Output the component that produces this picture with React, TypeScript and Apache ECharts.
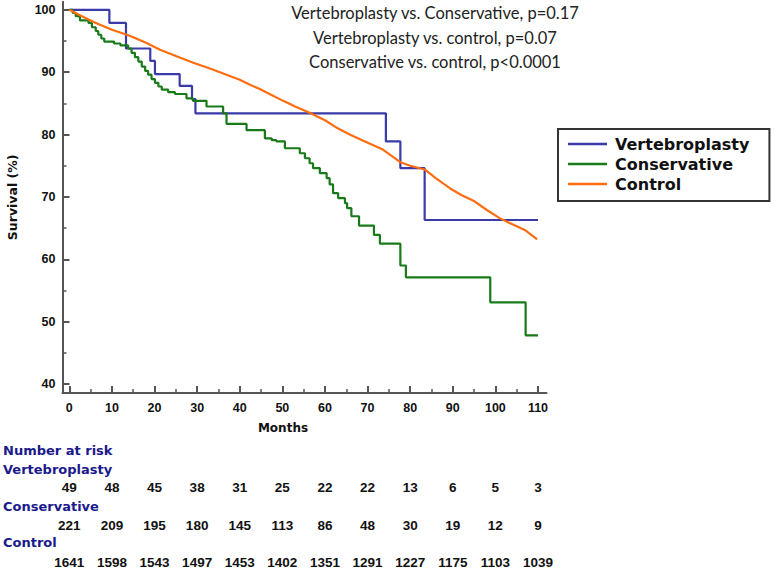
import React, { useEffect, useRef } from "react";
import * as echarts from "echarts";

const months = [0, 10, 20, 30, 40, 50, 60, 70, 80, 90, 100, 110];
const minorMonths = [5, 15, 25, 35, 45, 55, 65, 75, 85, 95, 105];
const survivalTicks = [40, 50, 60, 70, 80, 90, 100];
const survivalMinorTicks = [45, 55, 65, 75, 85, 95];

const riskVertebroplasty = [49, 48, 45, 38, 31, 25, 22, 22, 13, 6, 5, 3];
const riskConservative = [221, 209, 195, 180, 145, 113, 86, 48, 30, 19, 12, 9];
const riskControl = [1641, 1598, 1543, 1497, 1453, 1402, 1351, 1291, 1227, 1175, 1103, 1039];

const seriesNames = ["Vertebroplasty", "Conservative", "Control"];
const titleLines = [
  "Vertebroplasty vs. Conservative, p=0.17",
  "Vertebroplasty vs. control, p=0.07",
  "Conservative vs. control, p<0.0001",
];
const riskLabels = ["Number at risk", "Vertebroplasty", "Conservative", "Control"];

// Kaplan-Meier steps: [month at drop, survival % after drop]
const vertebroplastyData = [
  [0, 100], [9.4, 97.9], [13.3, 93.8], [19.0, 91.8], [20.1, 89.7], [25.9, 87.8],
  [28.8, 85.7], [29.6, 83.4], [74.3, 78.9], [77.7, 74.6], [83.4, 66.3], [110, 66.3],
];

const conservativeData = [
  [0, 100], [0.8, 99.5], [1.5, 99.0], [2.5, 98.3], [4.5, 97.9], [5.3, 97.2], [6.2, 96.6],
  [6.8, 96.0], [7.5, 95.4], [8.2, 94.9], [10.5, 94.6], [12.0, 94.3], [13.8, 93.8],
  [14.6, 93.1], [15.4, 92.4], [16.2, 91.7], [17.0, 90.9], [17.8, 90.2], [18.5, 89.6],
  [19.3, 88.9], [20.1, 88.3], [20.9, 87.7], [21.7, 87.2], [23.2, 86.8], [24.8, 86.5],
  [27.5, 85.8], [29.0, 85.4], [32.2, 84.5], [36.1, 83.4], [36.9, 81.7], [41.6, 80.7],
  [45.9, 79.4], [47.5, 79.1], [48.6, 78.9], [50.6, 77.8], [54.1, 77.0], [55.3, 76.2],
  [56.4, 75.4], [57.2, 74.6], [58.8, 73.8], [60.4, 73.0], [61.1, 72.0], [61.9, 70.6],
  [63.1, 69.8], [64.7, 69.0], [65.2, 68.2], [66.2, 66.9], [68.0, 65.4], [71.5, 63.9],
  [72.9, 62.5], [77.7, 59.0], [79.0, 57.1], [98.8, 53.1], [107.1, 47.8], [110, 47.8],
];

const controlData = [
  [0, 100], [2, 99.3], [5.6, 98.1], [7.2, 97.6], [10, 96.8], [13.5, 96.0], [15, 95.6],
  [18, 94.7], [21.3, 93.6], [25, 92.6], [29.1, 91.5], [33, 90.6], [36.9, 89.6], [40, 88.8],
  [42.4, 88.0], [44.7, 87.3], [47, 86.5], [50.2, 85.4], [53, 84.5], [56.4, 83.5], [60, 82.3],
  [63, 81.0], [65.8, 80.0], [69, 79.0], [73.6, 77.6], [77.6, 75.6], [80, 75.0], [83.4, 74.4],
  [86, 73.0], [89.3, 71.4], [92, 70.3], [95.1, 69.3], [98, 67.9], [101, 66.6], [104, 65.6],
  [106.9, 64.7], [109.8, 63.2],
];

const colors = ["#3a3aa8", "#187a18", "#ff6d10"];

const X_MIN = -1.6;
const X_MAX = 112;
const Y_MIN = 38.56;
const Y_MAX = 101.3;

const numFont = "'Liberation Sans', Arial, sans-serif";
const wideFont = "'DejaVu Sans', sans-serif";

function riskAxis(values: number[], offset: number) {
  return {
    type: "value",
    gridIndex: 0,
    position: "bottom",
    offset,
    min: X_MIN,
    max: X_MAX,
    axisLine: { show: false, onZero: false },
    axisTick: { show: false },
    splitLine: { show: false },
    axisLabel: {
      show: true,
      customValues: months,
      margin: 0,
      formatter: (v: number) => {
        const i = months.indexOf(Math.round(v));
        return i >= 0 ? String(values[i]) : "";
      },
      fontFamily: numFont,
      fontWeight: "bold",
      fontSize: 13.5,
      color: "#111",
    },
  };
}

export default function App() {
  const ref = useRef<HTMLDivElement>(null);

  useEffect(() => {
    if (!ref.current) return;
    const chart = echarts.init(ref.current, null, { renderer: "svg" });

    const axisLineStyle = { color: "#555", width: 2 };

    const graphics: any[] = [];
    titleLines.forEach((t, i) => {
      graphics.push({
        type: "text",
        x: 435,
        y: 13 + i * 24.5,
        style: {
          text: t,
          fill: "#222",
          font: "16.5px Lato, sans-serif",
          textAlign: "center",
          textVerticalAlign: "middle",
        },
      });
    });
    graphics.push({
      type: "text",
      x: 283,
      y: 428,
      style: {
        text: "Months",
        fill: "#111",
        font: `bold 12px ${wideFont}`,
        textAlign: "center",
        textVerticalAlign: "middle",
      },
    });
    const labelYs = [450, 469.3, 506, 542.7];
    riskLabels.forEach((t, i) => {
      graphics.push({
        type: "text",
        x: 3,
        y: labelYs[i],
        style: {
          text: t,
          fill: "#1a1a8c",
          font: `bold 13px ${wideFont}`,
          textAlign: "left",
          textVerticalAlign: "middle",
        },
      });
    });

    chart.setOption({
      animation: false,
      backgroundColor: "#fff",
      grid: {
        left: 62.5,
        top: 1.7,
        width: 484,
        height: 391.3,
        outerBoundsMode: "none",
      },
      legend: {
        orient: "vertical",
        left: 558,
        top: 129,
        padding: [5, 20, 7, 10],
        itemWidth: 39,
        itemHeight: 2.5,
        itemGap: 0,
        icon: "rect",
        borderColor: "#333",
        borderWidth: 2,
        backgroundColor: "#fff",
        data: seriesNames,
        textStyle: {
          fontFamily: wideFont,
          fontWeight: "bold",
          fontSize: 16,
          lineHeight: 20,
          color: "#111",
          padding: [0, 0, 0, 3],
        },
      },
      xAxis: [
        {
          type: "value",
          gridIndex: 0,
          position: "bottom",
          min: X_MIN,
          max: X_MAX,
          axisLine: { show: true, onZero: false, lineStyle: axisLineStyle },
          axisTick: {
            show: true,
            inside: true,
            length: 7,
            customValues: months,
            lineStyle: { color: "#555", width: 2 },
          },
          axisLabel: {
            show: true,
            customValues: months,
            margin: 8.5,
            fontFamily: numFont,
            fontWeight: "bold",
            fontSize: 12.5,
            color: "#111",
          },
          splitLine: { show: false },
        },
        {
          type: "value",
          gridIndex: 0,
          position: "bottom",
          min: X_MIN,
          max: X_MAX,
          axisLine: { show: false, onZero: false },
          axisTick: {
            show: true,
            inside: true,
            length: 4,
            customValues: minorMonths,
            lineStyle: { color: "#555", width: 1.5 },
          },
          axisLabel: { show: false },
          splitLine: { show: false },
        },
        riskAxis(riskVertebroplasty, 87.5),
        riskAxis(riskConservative, 125.25),
        riskAxis(riskControl, 162),
      ],
      yAxis: [
        {
          type: "value",
          gridIndex: 0,
          position: "left",
          min: Y_MIN,
          max: Y_MAX,
          name: "Survival (%)",
          nameLocation: "middle",
          nameGap: 44,
          nameTextStyle: {
            fontFamily: wideFont,
            fontWeight: "bold",
            fontSize: 12.5,
            color: "#111",
          },
          axisLine: { show: true, onZero: false, lineStyle: axisLineStyle },
          axisTick: {
            show: true,
            inside: true,
            length: 7,
            customValues: survivalTicks,
            lineStyle: { color: "#555", width: 2 },
          },
          axisLabel: {
            show: true,
            customValues: survivalTicks,
            margin: 7,
            fontFamily: numFont,
            fontWeight: "bold",
            fontSize: 12.5,
            color: "#111",
          },
          splitLine: { show: false },
        },
        {
          type: "value",
          gridIndex: 0,
          position: "left",
          min: Y_MIN,
          max: Y_MAX,
          axisLine: { show: false, onZero: false },
          axisTick: {
            show: true,
            inside: true,
            length: 4,
            customValues: survivalMinorTicks,
            lineStyle: { color: "#555", width: 1.5 },
          },
          axisLabel: { show: false },
          splitLine: { show: false },
        },
      ],
      series: [
        {
          name: seriesNames[0],
          type: "line",
          step: "end",
          data: vertebroplastyData,
          showSymbol: false,
          color: colors[0],
          lineStyle: { width: 2.2, color: colors[0] },
          z: 2,
        },
        {
          name: seriesNames[1],
          type: "line",
          step: "end",
          data: conservativeData,
          showSymbol: false,
          color: colors[1],
          lineStyle: { width: 2.2, color: colors[1] },
          z: 3,
        },
        {
          name: seriesNames[2],
          type: "line",
          data: controlData,
          showSymbol: false,
          color: colors[2],
          lineStyle: { width: 2.2, color: colors[2] },
          z: 4,
        },
      ],
      graphic: graphics,
    });

    return () => chart.dispose();
  }, []);

  return (
    <div
      ref={ref}
      style={{ position: "absolute", left: 0, top: 0, width: 777, height: 568 }}
    />
  );
}
